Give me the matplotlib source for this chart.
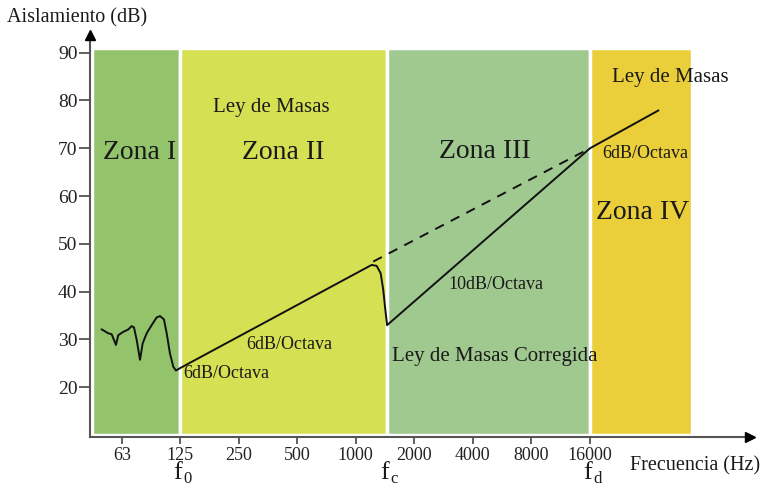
import matplotlib
matplotlib.use("Agg")
import matplotlib.pyplot as plt
from matplotlib.patches import Rectangle

plt.rcParams["font.family"] = ["Liberation Serif", "DejaVu Serif"]

# Zones of the insulation curve (Hz)
zone_edges = [44, 125, 1450, 16000, 53500]
zone_colors = ["#93c46c", "#d5e052", "#a0c990", "#eacf3a"]
zone_names = ["Zona I", "Zona II", "Zona III", "Zona IV"]

# Frequency axis ticks (Hz) and level axis ticks (dB)
freq_ticks = [63, 125, 250, 500, 1000, 2000, 4000, 8000, 16000]
db_ticks = [20, 30, 40, 50, 60, 70, 80, 90]

# Characteristic frequencies: resonance, coincidence, upper limit
char_freqs = [125, 1450, 16000]
char_subs = ["0", "c", "d"]

# Zone I: stiffness / resonance region
res_freq = [49.5, 53.5, 55.7, 58.6, 60.2, 63.9, 67.8, 70.6, 72.5, 74.9, 77.9,
            80.4, 84.3, 89.4, 94.8, 98.7, 103.4, 106.8, 111.0, 115.5, 119.2]
res_db = [32.1, 31.3, 31.1, 28.85, 30.9, 31.6, 32.1, 32.8, 32.55, 29.9, 25.75,
          29.2, 31.3, 33.0, 34.6, 34.9, 34.2, 31.3, 27.1, 24.3, 23.5]

# Zone II: mass law up to the coincidence dip at fc
mass_freq = [125, 1208, 1282, 1344, 1386, 1414, 1450]
mass_db = [24.0, 45.6, 45.4, 43.85, 40.35, 36.9, 33.0]

# Zone III: corrected mass law, Zone IV: mass law again
corr_freq = [16000, 35900]
corr_db = [70.0, 77.9]

# Ideal mass-law continuation (dashed)
ideal_freq = [1230, 16000]
ideal_db = [46.3, 70.0]

fig = plt.figure(figsize=(7.62, 4.86), dpi=100)
ax = fig.add_axes([90 / 762, 1 - 437 / 486, (750 - 90) / 762, (437 - 35) / 486])
ax.set_xscale("log", base=2)
ax.set_xlim(43.1, 106300)
ax.set_ylim(9.6, 93.7)

for i, c in enumerate(zone_colors):
    x0, x1 = zone_edges[i], zone_edges[i + 1]
    ax.add_patch(Rectangle((x0, 10.1), x1 - x0, 80.8, facecolor=c,
                           edgecolor="white", linewidth=2.5, zorder=1))

curve_freq = res_freq + mass_freq + corr_freq
curve_db = res_db + mass_db + corr_db
ax.plot(curve_freq, curve_db, color="#111111", lw=1.4, zorder=3,
        solid_joinstyle="round")
ax.plot(ideal_freq, ideal_db, color="#111111", lw=1.4, ls=(0, (5, 4)), zorder=3)

# Axes with arrows
for s in ["top", "right"]:
    ax.spines[s].set_visible(False)
for s in ["left", "bottom"]:
    ax.spines[s].set_color("#555555")
    ax.spines[s].set_linewidth(1.5)
ax.plot(1, 0, marker=">", color="black", markersize=7, transform=ax.transAxes,
        clip_on=False, zorder=5)
ax.plot(0, 1, marker="^", color="black", markersize=7, transform=ax.transAxes,
        clip_on=False, zorder=5)

ax.set_xticks(freq_ticks)
ax.set_xticklabels([str(f) for f in freq_ticks])
ax.xaxis.set_minor_locator(matplotlib.ticker.NullLocator())
ax.set_yticks(db_ticks)
ax.tick_params(axis="x", length=5, width=1.2, color="#444444", pad=2,
               labelsize=13, labelcolor="#222222")
ax.tick_params(axis="y", length=8, width=1.2, color="#444444", pad=1,
               labelsize=14, labelcolor="#222222")

txt = dict(color="#1a1a1a", ha="center", va="center", zorder=4)
ax.text(77.9, 69.2, zone_names[0], fontsize=20, **txt)
ax.text(423, 69.2, zone_names[1], fontsize=20, **txt)
ax.text(4615, 69.4, zone_names[2], fontsize=20, **txt)
ax.text(29960, 56.5, zone_names[3], fontsize=20, **txt)
ax.text(367, 78.6, "Ley de Masas", fontsize=15, **txt)
ax.text(41250, 84.9, "Ley de Masas", fontsize=15, **txt)
ax.text(30700, 69.0, "6dB/Octava", fontsize=13, **txt)
ax.text(5260, 41.6, "10dB/Octava", fontsize=13, **txt)
ax.text(5200, 26.5, "Ley de Masas Corregida", fontsize=15, **txt)
ax.text(454, 29.0, "6dB/Octava", fontsize=13, **txt)
ax.text(215, 22.8, "6dB/Octava", fontsize=13, **txt)

# f0, fc, fd under the frequency axis
xt = ax.get_xaxis_transform()
for f, sub in zip(char_freqs, char_subs):
    ax.annotate("f", xy=(f, 0), xycoords=xt, xytext=(-7, -42),
                textcoords="offset pixels", fontsize=19, ha="left",
                va="baseline", color="#1a1a1a", annotation_clip=False)
    ax.annotate(sub, xy=(f, 0), xycoords=xt, xytext=(3, -46),
                textcoords="offset pixels", fontsize=12, ha="left",
                va="baseline", color="#1a1a1a", annotation_clip=False)

fig.text(630 / 762, 1 - 466 / 486, "Frecuencia (Hz)", fontsize=14.5,
         ha="left", va="center", color="#1a1a1a")
fig.text(7 / 762, 1 - 18 / 486, "Aislamiento (dB)", fontsize=14.5,
         ha="left", va="center", color="#1a1a1a")

fig.savefig("out.png", dpi=100)
